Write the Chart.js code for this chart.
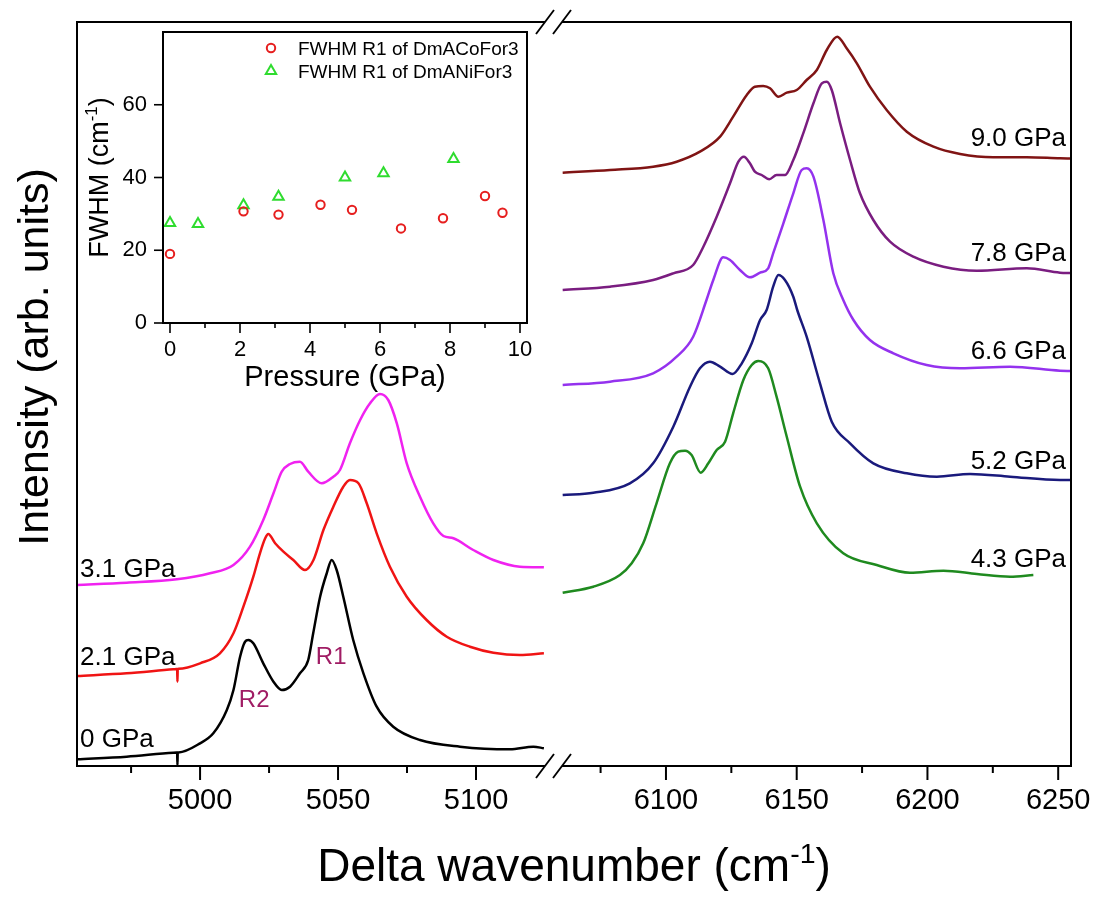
<!DOCTYPE html>
<html>
<head>
<meta charset="utf-8">
<script src="https://cdn.jsdelivr.net/npm/chart.js@4.4.1/dist/chart.umd.min.js"></script>
<style>
  html, body { margin: 0; padding: 0; background: #fff; }
  #wrap { position: relative; width: 1097px; height: 899px; }
  #main { position: absolute; left: 0; top: 0; }
  #inset { position: absolute; left: 80px; top: 24px; }
</style>
</head>
<body>
<div id="wrap">
  <canvas id="main" width="1097" height="899"></canvas>
  <canvas id="inset" width="460" height="380"></canvas>
</div>
<script>
// ---- Spectra: delta wavenumber (cm-1) and vertically offset intensity (arb. units) ----
// R-line region (left panel)
const wn0 = [4955.3, 4973.4, 4990.3, 4991.4, 4991.7, 4991.8, 4991.9, 4992.2, 5000, 5004.8, 5009.7, 5012.1, 5014.5, 5016.3, 5017.5, 5019.3, 5022.9, 5026.6, 5029.6, 5032.6, 5036.2, 5039.2, 5041.0, 5043.5, 5045.9, 5047.7, 5049.5, 5051.9, 5055.5, 5059.2, 5064.0, 5070.0, 5079.7, 5094.2, 5112.3, 5120.8, 5124.6];
const int0 = [6.7, 9.3, 13.3, 13.4, 13.4, 1, 13.5, 13.6, 22.7, 32.7, 56, 76, 109.3, 124.3, 126, 122.7, 102.7, 84.3, 76, 79.3, 92.7, 106, 132.7, 169.3, 192.7, 206, 196, 169.3, 126, 92.7, 59.3, 39.3, 26, 19.3, 16.7, 19.3, 17.7];

const wn21 = [4955.3, 4973.4, 4990.3, 4991.4, 4991.7, 4991.8, 4991.9, 4992.2, 5000, 5007.2, 5012.1, 5015.7, 5019.3, 5021.7, 5023.6, 5024.7, 5027.2, 5030.2, 5033.8, 5038.0, 5041.1, 5044.7, 5048.3, 5051.9, 5054.3, 5057.4, 5060.4, 5064.0, 5068.8, 5074.9, 5082.1, 5089.4, 5097.8, 5106.3, 5115.9, 5124.6];
const int21 = [90, 92.7, 96.7, 96.9, 97, 84.3, 97, 97.2, 102.7, 112.7, 132.7, 159.3, 189.3, 212.7, 227.7, 232, 222.7, 214.3, 206, 196, 206, 236, 259.3, 279.3, 286, 282.7, 262.7, 232.7, 199.3, 169.3, 146, 129.3, 119.3, 113.3, 111, 112.7];

const wn31 = [4955.3, 4973.4, 4991.6, 5003.6, 5012.1, 5018.1, 5022.9, 5026.6, 5029.6, 5032.6, 5036.2, 5039.2, 5044.1, 5048.3, 5050.7, 5054.3, 5058.0, 5061.6, 5065.2, 5068.2, 5071.3, 5074.9, 5079.7, 5084.5, 5088.2, 5091.8, 5099.0, 5106.3, 5115.9, 5124.6];
const int31 = [181, 183.3, 186.7, 192.7, 201, 219.3, 246, 272.7, 294.3, 302, 304.3, 294.3, 282.7, 289.3, 296, 322.7, 346, 362.7, 372, 366, 342.7, 302.7, 269.3, 242.7, 230, 227.7, 216, 206, 199.3, 198.7];

// Higher-pressure region (right panel)
const wn43 = [6060.5, 6072.2, 6082.4, 6086.9, 6091.3, 6096.4, 6101.5, 6104.7, 6107.3, 6109.8, 6113.3, 6116.2, 6119.4, 6122.6, 6125.7, 6129.6, 6132.8, 6135.3, 6139.1, 6142.3, 6146.2, 6151.3, 6157.7, 6167.8, 6180.6, 6193.3, 6206.1, 6218.9, 6231.6, 6240.5];
const int43 = [173.3, 179.3, 191, 202.7, 222.7, 262.7, 302.7, 314.3, 315.3, 311, 293.3, 302.7, 316, 324.3, 352.7, 386, 401, 405, 397.7, 369.3, 329.3, 279.3, 242.7, 212.7, 201, 193.3, 195.3, 192, 189.3, 191];

const wn52 = [6060.5, 6072.2, 6086.2, 6095.1, 6102.8, 6109.2, 6113.0, 6116.8, 6120.7, 6125.5, 6129.0, 6132.8, 6136.0, 6138.5, 6141.0, 6143.0, 6145.5, 6148.7, 6150.2, 6153.8, 6158.9, 6163.4, 6170.4, 6179.3, 6192.1, 6203.6, 6216.3, 6231.6, 6250.7, 6254.9];
const int52 = [271, 273.3, 282.7, 302.7, 339.3, 379.3, 397.7, 404.3, 399.3, 392, 402.7, 422.7, 446, 456, 479.3, 491, 486, 469.3, 456, 429.3, 382.7, 344.3, 322.7, 302.7, 292.7, 289.3, 292, 289.3, 286, 286];

const wn66 = [6060.5, 6078.6, 6095.1, 6104.1, 6110.4, 6115.5, 6118.1, 6121.9, 6124.5, 6128.3, 6132.1, 6136.0, 6139.1, 6141.0, 6144.9, 6148.7, 6151.9, 6153.8, 6156.4, 6160.2, 6164.0, 6167.8, 6171.7, 6178.0, 6187.0, 6199.7, 6212.5, 6231.6, 6250.7, 6254.9];
const int66 = [381, 384.3, 392.7, 409.3, 429.3, 466, 486, 508.7, 506, 496, 488.7, 493.3, 497.7, 512.7, 542.7, 572.7, 596, 597.7, 589.3, 546, 492.7, 466, 446, 426, 412.7, 401, 397.7, 399.3, 395.3, 395];

const wn78 = [6060.5, 6078.6, 6095.1, 6102.8, 6110.4, 6114.3, 6119.4, 6124.5, 6127.7, 6129.8, 6132.1, 6134.0, 6136.6, 6139.5, 6142.3, 6145.5, 6148.7, 6152.5, 6156.4, 6159.6, 6161.5, 6163.4, 6166.6, 6170.4, 6174.2, 6179.3, 6185.7, 6194.6, 6206.1, 6218.9, 6238.0, 6250.7, 6254.9];
const int78 = [476, 479.3, 486, 492.7, 501, 519.3, 549.3, 582.7, 604.3, 609.3, 602.7, 594.3, 591, 586.7, 591, 591, 606, 632.7, 662.7, 682.7, 684.3, 676, 642.7, 606, 572.7, 546, 524.3, 509.3, 499.3, 495.3, 497.7, 493.3, 493];

const wn90 = [6060.5, 6078.6, 6095.1, 6104.1, 6113.0, 6120.7, 6125.7, 6130.9, 6134.0, 6137.2, 6139.8, 6143.0, 6146.2, 6150.0, 6153.8, 6157.7, 6161.5, 6165.5, 6169.1, 6173.0, 6178.0, 6184.4, 6192.1, 6202.3, 6212.5, 6225.2, 6238.0, 6250.7, 6254.9];
const int90 = [593.3, 596, 599.3, 604.3, 614.3, 629.3, 649.3, 671, 679.3, 680, 677.7, 669.3, 673.3, 676, 686, 696, 716, 729.3, 717.7, 702.7, 679.3, 656, 634.3, 619.3, 612, 608.7, 608.7, 607.7, 607.5];

// ---- Inset: FWHM of R1 versus pressure ----
const pressCo = [0, 2.1, 3.1, 4.3, 5.2, 6.6, 7.8, 9.0, 9.5];
const fwhmCo  = [19, 30.7, 29.8, 32.5, 31.1, 26.0, 28.8, 34.9, 30.3];
const pressNi = [0, 0.8, 2.1, 3.1, 5.0, 6.1, 8.1];
const fwhmNi  = [27.5, 27.2, 32.4, 34.7, 40.0, 41.2, 45.1];

// Axis ranges of the two broken x segments
const leftRange  = [4955.4, 5127.9];
const rightRange = [6056.8, 6254.9];
const xMajorStep = 50, xMinorStep = 25;

const FONT = '"Liberation Sans", Arial, Helvetica, sans-serif';

const spectra = [
  { label: '0 GPa',   axis: 'xL', x: wn0,  y: int0,  color: '#000000' },
  { label: '2.1 GPa', axis: 'xL', x: wn21, y: int21, color: '#f01414' },
  { label: '3.1 GPa', axis: 'xL', x: wn31, y: int31, color: '#f022f0' },
  { label: '4.3 GPa', axis: 'xR', x: wn43, y: int43, color: '#1f8a1f' },
  { label: '5.2 GPa', axis: 'xR', x: wn52, y: int52, color: '#1a1a7c' },
  { label: '6.6 GPa', axis: 'xR', x: wn66, y: int66, color: '#9432ee' },
  { label: '7.8 GPa', axis: 'xR', x: wn78, y: int78, color: '#7a1d80' },
  { label: '9.0 GPa', axis: 'xR', x: wn90, y: int90, color: '#801414' }
];

// Text annotations placed in data coordinates
const curveTags = [
  { text: '3.1 GPa', axis: 'xL', x: 4956.5, y: 198, align: 'left',  size: 26, color: '#000' },
  { text: '2.1 GPa', axis: 'xL', x: 4956.5, y: 110, align: 'left',  size: 26, color: '#000' },
  { text: '0 GPa',   axis: 'xL', x: 4956.5, y: 28,  align: 'left',  size: 26, color: '#000' },
  { text: 'R2',      axis: 'xL', x: 5019.6, y: 68,  align: 'center', size: 24, color: '#a01c64' },
  { text: 'R1',      axis: 'xL', x: 5047.5, y: 111, align: 'center', size: 24, color: '#a01c64' },
  { text: '9.0 GPa', axis: 'xR', x: 6253.0, y: 629, align: 'right', size: 26, color: '#000' },
  { text: '7.8 GPa', axis: 'xR', x: 6253.0, y: 514, align: 'right', size: 26, color: '#000' },
  { text: '6.6 GPa', axis: 'xR', x: 6253.0, y: 416, align: 'right', size: 26, color: '#000' },
  { text: '5.2 GPa', axis: 'xR', x: 6253.0, y: 306, align: 'right', size: 26, color: '#000' },
  { text: '4.3 GPa', axis: 'xR', x: 6253.0, y: 208, align: 'right', size: 26, color: '#000' }
];

// Draw text with a superscript part, centred on cx
function drawRichText(ctx, parts, cx, baseline, size) {
  const widths = parts.map(p => {
    ctx.font = (p.sup ? size * 0.62 : size) + 'px ' + FONT;
    return ctx.measureText(p.t).width;
  });
  const total = widths.reduce((a, b) => a + b, 0);
  let x = cx - total / 2;
  ctx.textAlign = 'left';
  ctx.textBaseline = 'alphabetic';
  parts.forEach((p, i) => {
    ctx.font = (p.sup ? size * 0.62 : size) + 'px ' + FONT;
    ctx.fillText(p.t, x, baseline - (p.sup ? size * 0.4 : 0));
    x += widths[i];
  });
}

const mainDecor = {
  id: 'mainDecor',
  afterDraw(chart) {
    const { ctx, chartArea: a, scales } = chart;
    ctx.save();
    ctx.strokeStyle = '#000';
    ctx.fillStyle = '#000';
    ctx.lineWidth = 2;
    ctx.strokeRect(a.left, a.top, a.right - a.left, a.bottom - a.top);

    // major / minor tick marks on both segments
    const brk = scales.xL.right;
    ['xL', 'xR'].forEach(id => {
      const s = scales[id];
      for (let v = Math.ceil(s.min / xMinorStep) * xMinorStep; v <= s.max; v += xMinorStep) {
        const px = s.getPixelForValue(v);
        if (Math.abs(px - brk) < 12) continue;
        const len = v % xMajorStep === 0 ? 14 : 7;
        ctx.beginPath();
        ctx.moveTo(px, a.bottom);
        ctx.lineTo(px, a.bottom + len);
        ctx.stroke();
      }
    });

    // axis break marks
    ctx.fillStyle = '#fff';
    ctx.fillRect(brk - 8, a.top - 3, 17, 6);
    ctx.fillRect(brk - 8, a.bottom - 3, 17, 6);
    ctx.lineWidth = 1.8;
    [a.top, a.bottom].forEach(yy => {
      [-8, 9].forEach(dx => {
        ctx.beginPath();
        ctx.moveTo(brk + dx - 9, yy + 12);
        ctx.lineTo(brk + dx + 9, yy - 12);
        ctx.stroke();
      });
    });

    // curve labels
    curveTags.forEach(t => {
      const x = scales[t.axis].getPixelForValue(t.x);
      const y = scales.y.getPixelForValue(t.y);
      ctx.font = t.size + 'px ' + FONT;
      ctx.fillStyle = t.color;
      ctx.textAlign = t.align;
      ctx.textBaseline = 'alphabetic';
      ctx.fillText(t.text, x, y + t.size * 0.36);
    });

    // axis titles
    ctx.fillStyle = '#000';
    ctx.save();
    ctx.translate(48, 357);
    ctx.rotate(-Math.PI / 2);
    ctx.font = '43px ' + FONT;
    ctx.textAlign = 'center';
    ctx.textBaseline = 'alphabetic';
    ctx.fillText('Intensity (arb. units)', 0, 0);
    ctx.restore();
    drawRichText(ctx, [{ t: 'Delta wavenumber (cm' }, { t: '-1', sup: true }, { t: ')' }],
      (a.left + a.right) / 2, 881, 46);
    ctx.restore();
  }
};

const tickFont = { family: FONT, size: 29 };
function segmentAxis(range, weight) {
  return {
    type: 'linear', position: 'bottom', axis: 'x', stack: 'wavenumber', stackWeight: weight,
    min: range[0], max: range[1],
    afterBuildTicks: s => {
      const out = [];
      for (let v = Math.ceil(s.min / xMajorStep) * xMajorStep; v <= s.max; v += xMajorStep) out.push({ value: v });
      s.ticks = out;
    },
    afterFit: s => { s.height = 60; s.paddingLeft = 0; s.paddingRight = 0; },
    grid: { display: false, drawTicks: false },
    border: { display: false },
    ticks: { autoSkip: false, maxRotation: 0, minRotation: 0,
             padding: 18, color: '#000', font: tickFont, callback: v => String(v) }
  };
}

new Chart(document.getElementById('main'), {
  type: 'scatter',
  data: {
    datasets: spectra.map(s => ({
      label: s.label,
      data: s.x.map((v, i) => ({ x: v, y: s.y[i] })),
      xAxisID: s.axis, yAxisID: 'y',
      showLine: true, borderColor: s.color, borderWidth: 2.5,
      pointRadius: 0, cubicInterpolationMode: 'monotone', fill: false
    }))
  },
  options: {
    responsive: false, animation: false, devicePixelRatio: 1, events: [],
    layout: { padding: { left: 77, right: 26, top: 22, bottom: 73 } },
    plugins: { legend: { display: false }, tooltip: { enabled: false } },
    scales: {
      xL: segmentAxis(leftRange, 476),
      xR: segmentAxis(rightRange, 518),
      y: { type: 'linear', display: false, min: 0, max: 744 }
    }
  },
  plugins: [mainDecor]
});

// ---- Inset chart ----
const insetSeries = [
  { label: 'FWHM R1 of DmACoFor3', x: pressCo, y: fwhmCo, style: 'circle',   radius: 4.2, color: '#e61e1e' },
  { label: 'FWHM R1 of DmANiFor3', x: pressNi, y: fwhmNi, style: 'triangle', radius: 6,   color: '#2fdc2f' }
];

const insetDecor = {
  id: 'insetDecor',
  afterDraw(chart) {
    const { ctx, chartArea: a, scales } = chart;
    ctx.save();
    ctx.strokeStyle = '#000';
    ctx.lineWidth = 2;
    ctx.strokeRect(a.left, a.top, a.right - a.left, a.bottom - a.top);
    ctx.lineWidth = 1.6;
    for (let v = 0; v <= 10; v += 1) {
      const px = scales.x.getPixelForValue(v);
      ctx.beginPath();
      ctx.moveTo(px, a.bottom);
      ctx.lineTo(px, a.bottom + (v % 2 === 0 ? 10 : 5));
      ctx.stroke();
    }
    for (let v = 0; v <= 60; v += 20) {
      const py = scales.y.getPixelForValue(v);
      ctx.beginPath();
      ctx.moveTo(a.left, py);
      ctx.lineTo(a.left - 9, py);
      ctx.stroke();
    }

    // legend
    insetSeries.forEach((s, i) => {
      const mx = a.left + 108, my = a.top + 16 + i * 23;
      ctx.strokeStyle = s.color;
      ctx.fillStyle = 'rgba(0,0,0,0)';
      ctx.lineWidth = 2;
      Chart.helpers.drawPoint(ctx, { pointStyle: s.style, radius: s.radius, borderWidth: 2, rotation: 0 }, mx, my);
      ctx.fillStyle = '#000';
      ctx.font = '19px ' + FONT;
      ctx.textAlign = 'left';
      ctx.textBaseline = 'alphabetic';
      ctx.fillText(s.label, a.left + 135, my + 7);
    });

    // titles
    ctx.fillStyle = '#000';
    drawRichText(ctx, [{ t: 'Pressure (GPa)' }], (a.left + a.right) / 2, 362, 29);
    ctx.save();
    ctx.translate(28, (a.top + a.bottom) / 2);
    ctx.rotate(-Math.PI / 2);
    drawRichText(ctx, [{ t: 'FWHM (cm' }, { t: '-1', sup: true }, { t: ')' }], 0, 0, 27);
    ctx.restore();
    ctx.restore();
  }
};

new Chart(document.getElementById('inset'), {
  type: 'scatter',
  data: {
    datasets: insetSeries.map(s => ({
      label: s.label,
      data: s.x.map((v, i) => ({ x: v, y: s.y[i] })),
      pointStyle: s.style, pointRadius: s.radius, pointBorderWidth: 2,
      pointBorderColor: s.color, pointBackgroundColor: 'rgba(0,0,0,0)',
      borderColor: s.color, backgroundColor: 'rgba(0,0,0,0)', showLine: false
    }))
  },
  options: {
    responsive: false, animation: false, devicePixelRatio: 1, events: [],
    layout: { padding: { left: 0, right: 13, top: 3, bottom: 41 } },
    plugins: { legend: { display: false }, tooltip: { enabled: false } },
    scales: {
      x: {
        type: 'linear', min: -0.2, max: 10.2,
        afterFit: s => { s.height = 40; s.paddingLeft = 0; s.paddingRight = 0; },
        grid: { display: false, drawTicks: false }, border: { display: false },
        ticks: { stepSize: 2, includeBounds: false, autoSkip: false, maxRotation: 0, padding: 14,
                 color: '#000', font: { family: FONT, size: 22 } }
      },
      y: {
        type: 'linear', min: 0, max: 80,
        afterFit: s => { s.width = 83; s.paddingTop = 0; s.paddingBottom = 0; },
        grid: { display: false, drawTicks: false }, border: { display: false },
        ticks: { stepSize: 20, includeBounds: false, padding: 16, color: '#000',
                 font: { family: FONT, size: 22 }, callback: v => (v <= 60 ? v : '') }
      }
    }
  },
  plugins: [insetDecor]
});
</script>
</body>
</html>
